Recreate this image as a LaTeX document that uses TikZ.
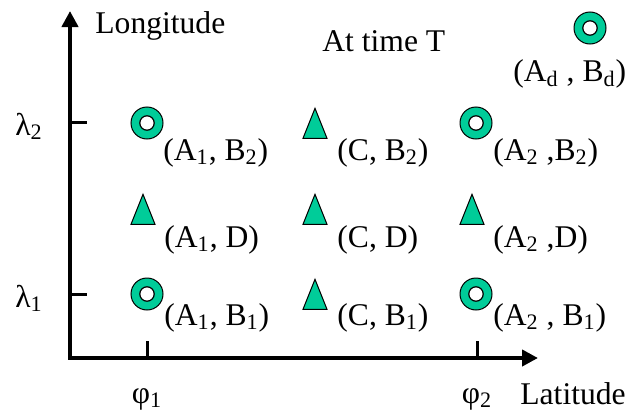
\documentclass[tikz,border=0pt]{standalone}
\usepackage{fontspec}
\setmainfont{Liberation Serif}
\usepackage{tikz}
\usetikzlibrary{arrows.meta,shapes.geometric}
\definecolor{sea}{RGB}{0,204,153}

\begin{document}
\begin{tikzpicture}[x=0.5pt,y=-0.5pt,line join=miter,
      axis/.style={line width=2pt,{Triangle[length=8pt,width=8pt]}-{Triangle[length=8pt,width=8pt]}},
      tick/.style={line width=1.5pt},
      ring/.style={circle,draw,line width=0.5pt,fill=sea,minimum size=16pt,inner sep=0pt,
        path picture={\draw[fill=white,line width=0.6pt] (path picture bounding box.center) circle (3.6pt);}},
      tri/.style={isosceles triangle,isosceles triangle stretches,shape border rotate=90,draw,
        line width=0.5pt,fill=sea,inner sep=0pt,minimum width=12pt,minimum height=15pt,anchor=apex},
      txt/.style={inner sep=0pt,font=\fontsize{15.8}{19}\selectfont},
      lbl/.style={txt,anchor=base west}]
      \useasboundingbox (0,0) rectangle (626,412);

      % axes
      \coordinate (o) at (70,358);
      \coordinate (ytip) at (70,11);
      \coordinate (xtip) at (538,358);
      \draw[axis] (ytip) -- (o) -- (xtip);
      \node[lbl] (long) at (95,33) {Longitude};
      \node[lbl] (lat) at (520,404) {Latitude};
      \node[lbl] (time) at (322,51) {At time T};

      % ticks
      \coordinate (y2) at (70,122);  \coordinate (y2e) at (87,122);
      \coordinate (y1) at (70,294);  \coordinate (y1e) at (87,294);
      \coordinate (x1) at (147,358); \coordinate (x1e) at (147,341);
      \coordinate (x2) at (477,358); \coordinate (x2e) at (477,341);
      \draw[tick] (y2) -- (y2e);
      \draw[tick] (y1) -- (y1e);
      \draw[tick] (x1) -- (x1e);
      \draw[tick] (x2) -- (x2e);
      \node[lbl] (lam2) at (15,135) {λ\textsubscript{2}};
      \node[lbl] (lam1) at (15,307) {λ\textsubscript{1}};
      \node[txt,anchor=base] (phi1) at (147,403) {φ\textsubscript{1}};
      \node[txt,anchor=base] (phi2) at (477,403) {φ\textsubscript{2}};

      % grid points
      \node[ring] (a1b2) at (147,123) {};
      \node[tri]  (cb2)  at (315,107) {};
      \node[ring] (a2b2) at (476,123) {};
      \node[tri]  (a1d)  at (143,193) {};
      \node[tri]  (cd)   at (315,193) {};
      \node[tri]  (a2d)  at (472,193) {};
      \node[ring] (a1b1) at (147,294) {};
      \node[tri]  (cb1)  at (315,278) {};
      \node[ring] (a2b1) at (476,294) {};
      \node[ring] (adbd) at (590,28) {};

      \node[lbl] (la1b2) at (163,160) {(A\textsubscript{1}, B\textsubscript{2})};
      \node[lbl] (lcb2)  at (337,160) {(C, B\textsubscript{2})};
      \node[lbl] (la2b2) at (493,160) {(A\textsubscript{2} ,B\textsubscript{2})};
      \node[lbl] (la1d)  at (164,247) {(A\textsubscript{1}, D)};
      \node[lbl] (lcd)   at (337,247) {(C, D)};
      \node[lbl] (la2d)  at (493,247) {(A\textsubscript{2} ,D)};
      \node[lbl] (la1b1) at (164,325) {(A\textsubscript{1}, B\textsubscript{1})};
      \node[lbl] (lcb1)  at (337,325) {(C, B\textsubscript{1})};
      \node[lbl] (la2b1) at (493,325) {(A\textsubscript{2} , B\textsubscript{1})};
      \node[lbl] (ladbd) at (513,81) {(A\textsubscript{d} , B\textsubscript{d})};
    \end{tikzpicture}
\end{document}
